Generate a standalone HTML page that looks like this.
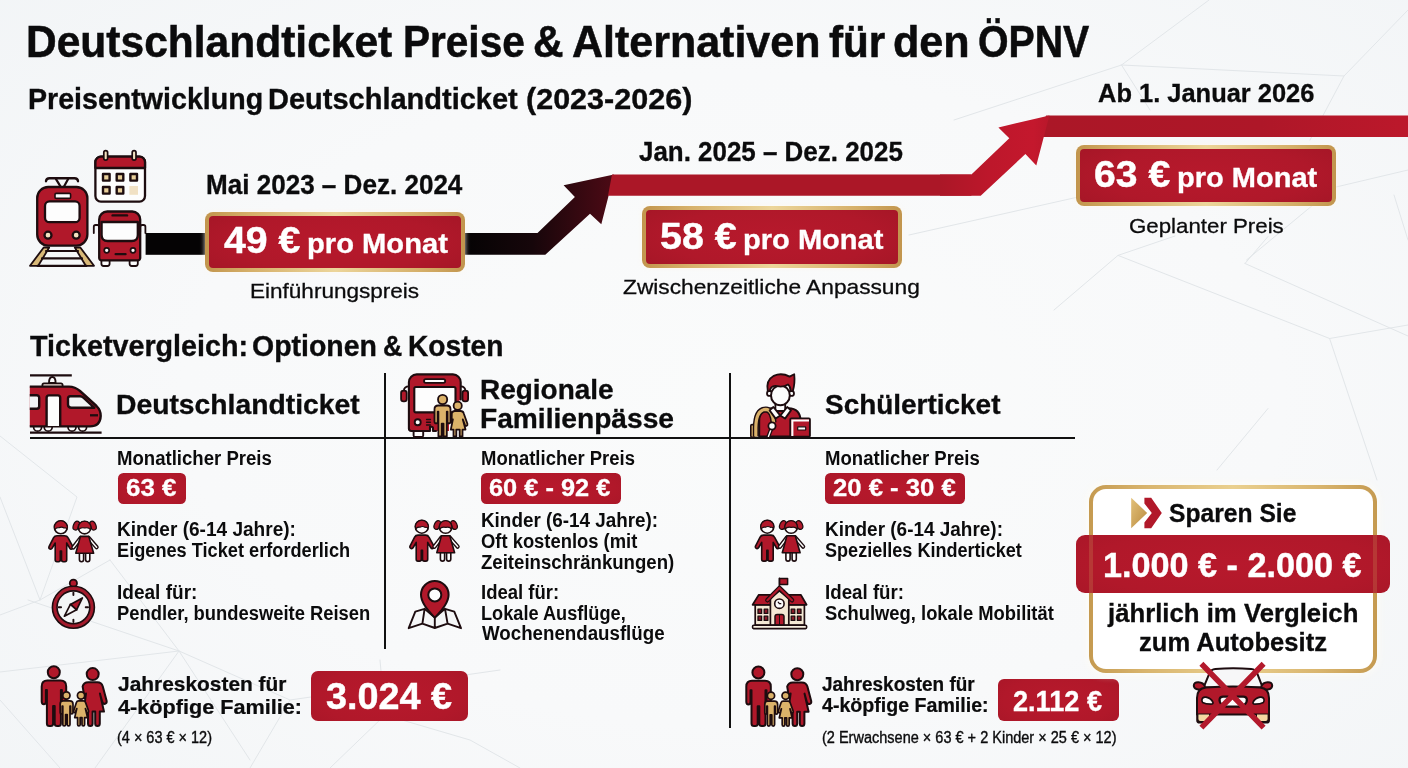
<!DOCTYPE html>
<html lang="de">
<head>
<meta charset="utf-8">
<title>Deutschlandticket Preise &amp; Alternativen für den ÖPNV</title>
<style>
html,body{margin:0;padding:0;background:#f5f7f8;}
#page{position:relative;width:1408px;height:768px;overflow:hidden;background:radial-gradient(ellipse 78% 85% at 52% 52%, #fafbfb 0%, #f8f9fa 50%, #f1f4f6 100%);font-family:"Liberation Sans",sans-serif;}
#page svg.layer{position:absolute;left:0;top:0;width:1408px;height:768px;display:block;}
.t{position:absolute;white-space:nowrap;line-height:1;transform-origin:0 0;font-family:"Liberation Sans",sans-serif;letter-spacing:0;}
.t.md{font-weight:700;}
.t.bd{-webkit-text-stroke:0.012em currentColor;}
.t.rg{-webkit-text-stroke:0.014em currentColor;}
.t.sm{-webkit-text-stroke:0.024em currentColor;}
.line{margin:0;padding:0;}
.badge{position:absolute;box-sizing:border-box;border:4px solid transparent;border-radius:8px;box-shadow:0 0 5px rgba(255,250,238,.85);background:radial-gradient(ellipse 70% 90% at 50% 50%,#b7192c 0%,#b0182a 60%,#a31626 100%) padding-box,linear-gradient(90deg,#c2954d 0%,#d6b06a 18%,#ecd59a 50%,#d6b06a 82%,#c2954d 100%) border-box;}
.pill{position:absolute;background:radial-gradient(ellipse 75% 95% at 50% 50%,#b7192c 0%,#b1182a 60%,#a61627 100%);border-radius:5.5px;}
.rule{position:absolute;background:#111;}

</style>
</head>
<body>
<div id="page">
<svg class="layer" viewBox="0 0 1408 768" aria-hidden="true">
<defs>
<linearGradient id="gBlack" x1="465" y1="0" x2="614" y2="0" gradientUnits="userSpaceOnUse">
<stop offset="0" stop-color="#050304"/><stop offset="0.45" stop-color="#16060a"/><stop offset="1" stop-color="#4d0a15"/>
</linearGradient>
<linearGradient id="gRed" x1="0" y1="0" x2="0" y2="1">
<stop offset="0" stop-color="#b3192b"/><stop offset="1" stop-color="#a81626"/>
</linearGradient>
<linearGradient id="gArrow2" x1="940" y1="0" x2="1050" y2="0" gradientUnits="userSpaceOnUse"><stop offset="0" stop-color="#ab1727"/><stop offset="0.45" stop-color="#bd172b"/><stop offset="0.85" stop-color="#c4182d"/><stop offset="1" stop-color="#b8172a"/></linearGradient>
<linearGradient id="gTop" x1="1040" y1="0" x2="1408" y2="0" gradientUnits="userSpaceOnUse"><stop offset="0" stop-color="#ab1727"/><stop offset="0.6" stop-color="#ae1728"/><stop offset="1" stop-color="#bc182b"/></linearGradient>
</defs>
<!-- faint low-poly background mesh -->
<g fill="none" stroke="#e2e6e9" stroke-width="1" stroke-linecap="round">
<path d="M954 120 L1121.5 65 L1209 0 M1121.5 65 L1344 76 L1408 10 M1121.5 65 L1150 110 M1344 76 L1310 140"/>
<path d="M909 235 L1076 197.5 M1334 187.5 L1408 170 M1246.5 260 L1319 200 M1394 195 L1408 240"/>
<path d="M1054 310 L1118 255.4 L1329.6 338.5 L1377 480 M1118 255.4 L1175 236 M1245 263.5 L1408 336 M1245 263.5 L1268 236.5 M1217 470 L1268 408.5 M1329.6 338.5 L1408 325"/>
<path d="M0 436 L77 497 L40 600 L0 615 M0 497 L40 600 M40 600 L110 560"/>
<path d="M0 672 L179 651 L28 600 M179 651 L110 560 M179 651 L250 760 M179 651 L95 768 M179 651 L290 700 L250 768 M290 700 L500 670 M0 700 L60 768"/>
<path d="M330 768 L385 715 L470 740 L520 768 M385 715 L380 660"/>
</g>
<!-- timeline track -->
<rect x="145.6" y="233" width="64" height="21.8" fill="#050304"/>
<polygon points="460,233 537.5,233 574.9,196.9 563.6,185.2 614,174.6 601.3,224.2 590,213.8 545.3,254.8 460,254.8" fill="url(#gBlack)"/>
<polygon points="1046,115.4 1408,115.4 1408,136.9 1040,136.9" fill="url(#gTop)"/>
<polygon points="612,174.5 971.4,174.5 971.4,195.8 608,195.8" fill="#ab1727"/>
<polygon points="940,174.5 971.4,174.5 1009.3,138.3 998.4,127.4 1049.4,115.4 1036.3,165.6 1025.4,154.1 980.7,195.8 940,195.8" fill="url(#gArrow2)"/>
</svg>

<div class="badge" style="left:205.4px;top:211.6px;width:259.6px;height:60.6px"></div>
<div class="badge" style="left:641.9px;top:205.9px;width:259.8px;height:62px"></div>
<div class="badge" style="left:1076.2px;top:144.8px;width:259.8px;height:61.5px"></div>
<div class="rule" style="left:29.5px;top:436.6px;width:1045px;height:2.4px"></div>
<div class="rule" style="left:383.8px;top:373px;width:2.2px;height:276px"></div>
<div class="rule" style="left:729.3px;top:373px;width:2.2px;height:354.5px"></div>
<div class="pill" style="left:117.8px;top:472.6px;width:68px;height:31px"></div>
<div class="pill" style="left:480.7px;top:472.6px;width:139.9px;height:31px"></div>
<div class="pill" style="left:825px;top:472.6px;width:140px;height:31px"></div>
<div class="pill" style="left:310.8px;top:670.7px;width:156.8px;height:50.6px;border-radius:7px"></div>
<div class="pill" style="left:997.8px;top:679px;width:120.8px;height:42px;border-radius:6px"></div>
<div id="savebox" style="position:absolute;box-sizing:border-box;left:1088.6px;top:484.5px;width:288.7px;height:188.6px;border:4px solid transparent;border-radius:17px;box-shadow:0 0 9px 1px rgba(255,253,244,.95);background:linear-gradient(#fff,#fff) padding-box,linear-gradient(90deg,#c59a50 0%,#d9b56e 20%,#ead08f 50%,#d9b56e 80%,#c59a50 100%) border-box"></div>
<div class="pill" style="left:1075.5px;top:535.3px;width:314px;height:58px;border-radius:9px"></div>
<div style="position:absolute;left:1088.6px;top:535.3px;width:4px;height:58px;background:rgba(205,160,90,.24)"></div>
<div style="position:absolute;left:1373.3px;top:535.3px;width:4px;height:58px;background:rgba(205,160,90,.24)"></div>

<svg class="layer" viewBox="0 0 1408 768" aria-hidden="true">
<g id="ico-transit" stroke="#1d0c0f" stroke-width="2.3" stroke-linejoin="round" stroke-linecap="round">
  <!-- tram: pantograph -->
  <path d="M46 181.2 Q46.3 178.3 49.5 178.3 H74.5 Q77.7 178.3 78 181.2" fill="none" stroke-width="2.4"/>
  <path d="M56 179.2 L60.6 186.6 M68 179.2 L64 186.6" fill="none" stroke-width="2.2"/>
  <!-- rails -->
  <polygon points="43.7,247.5 49.2,247.5 38.2,265.8 30,265.8" fill="#d8b878" stroke-width="1.8"/>
  <polygon points="74.8,247.5 80.3,247.5 94,265.8 85.8,265.8" fill="#d8b878" stroke-width="1.8"/>
  <path d="M46 251 H78 M42 258.4 H82 M37.5 265.8 H86.5" fill="none" stroke-width="2.2"/>
  <!-- tram body -->
  <rect x="37.2" y="187" width="50.2" height="58.6" rx="11" ry="11" fill="#b1182a"/>
  <rect x="45" y="201.4" width="34.6" height="20.8" rx="4.5" fill="#fdfdfd"/>
  <rect x="55" y="193.4" width="15.6" height="5" rx="1.2" fill="#fdfdfd" stroke-width="1.6"/>
  <circle cx="48" cy="235.2" r="3.5" fill="#f3e2c0"/>
  <circle cx="76.2" cy="235.2" r="3.5" fill="#f3e2c0"/>
  <!-- calendar -->
  <rect x="95.4" y="156.6" width="49.6" height="45" rx="5.5" fill="#fdfdfd"/>
  <path d="M95.4 168 V162.1 a5.5 5.5 0 0 1 5.5 -5.5 H139.5 a5.5 5.5 0 0 1 5.5 5.5 V168 Z" fill="#b1182a"/>
  <rect x="103.8" y="150.6" width="3.8" height="9.6" rx="1.9" fill="#f3e2c0" stroke-width="1.7"/>
  <rect x="132.2" y="150.6" width="3.8" height="9.6" rx="1.9" fill="#f3e2c0" stroke-width="1.7"/>
  <g fill="#e9cf9a" stroke-width="2.4">
    <rect x="103" y="174" width="6.6" height="6.6"/>
    <rect x="116.7" y="174" width="6.6" height="6.6"/>
    <rect x="130.4" y="174" width="6.6" height="6.6"/>
    <rect x="103" y="187" width="6.6" height="6.6"/>
    <rect x="116.7" y="187" width="6.6" height="6.6"/>
  </g>
  <rect x="129.4" y="186" width="8.6" height="8.8" fill="#f1e1c4" stroke="none"/>
  <!-- bus -->
  <path d="M99.2 232 V227 a2 2 0 0 0 -2 -2 H95.6 a1.8 1.8 0 0 0 -1.8 1.8 V233" fill="none" stroke-width="1.8"/>
  <path d="M140.2 232 V227 a2 2 0 0 1 2 -2 H143.6 a1.8 1.8 0 0 1 1.8 1.8 V233" fill="none" stroke-width="1.8"/>
  <rect x="101.4" y="258" width="8.2" height="8" rx="2.2" fill="#fdfdfd" stroke-width="1.8"/>
  <rect x="129.6" y="258" width="8.2" height="8" rx="2.2" fill="#fdfdfd" stroke-width="1.8"/>
  <path d="M99.2 258 V219.5 a8 8 0 0 1 8 -8 H132.2 a8 8 0 0 1 8 8 V258 a2.4 2.4 0 0 1 -2.4 2.4 H101.6 a2.4 2.4 0 0 1 -2.4 -2.4 Z" fill="#b1182a"/>
  <path d="M101.6 222 H137.8 V235 Q137.8 241 131.8 241 H107.6 Q101.6 241 101.6 235 Z" fill="#fdfdfd"/>
  <path d="M112.6 215.4 H127" fill="none" stroke-width="2.4"/>
  <circle cx="106.7" cy="250.3" r="2.5" fill="#fdfdfd" stroke-width="1.7"/>
  <circle cx="133" cy="250.3" r="2.5" fill="#fdfdfd" stroke-width="1.7"/>
  <path d="M115.6 254.2 H125.6" fill="none" stroke-width="2.2"/>
</g>

<g id="ico-train" stroke="#1d0c0f" stroke-width="2.4" stroke-linejoin="round" stroke-linecap="butt">
  <path d="M30 375.4 H71.8" fill="none" stroke-width="2.3"/>
  <path d="M49 383 Q49 377 52.3 377 Q55.6 377 55.6 383 Z" fill="#fdfdfd" stroke-width="1.9"/>
  <path d="M42.4 386 V385 a1.6 1.6 0 0 1 1.6 -1.6 H61 a1.6 1.6 0 0 1 1.6 1.6 V386" fill="#f1dfd8" stroke-width="1.8"/>
  <!-- wheels -->
  <g fill="#fdfdfd" stroke-width="1.7">
    <path d="M33.6 427 a4 4.2 0 0 0 8 0"/><path d="M44.2 427 a4 4.2 0 0 0 8 0"/>
    <path d="M68 427 a4 4.2 0 0 0 8 0"/><path d="M78.6 427 a4 4.2 0 0 0 8 0"/>
  </g>
  <!-- body -->
  <path d="M29.8 386.6 H69 Q75 386.6 80 391 L96.5 406 Q101 410.5 100.7 416 Q100.2 426.4 90 426.4 H29.8 Z" fill="#b1182a" stroke="none"/>
  <path d="M29.8 386.6 H69 Q75 386.6 80 391 L96.5 406 Q101 410.5 100.7 416 Q100.2 426.4 90 426.4 H29.8" fill="none"/>
  <!-- side window cut -->
  <path d="M29.8 395.2 H36.6 a2.6 2.6 0 0 1 2.6 2.6 V406.2 a2.6 2.6 0 0 1 -2.6 2.6 H29.8" fill="#f2f4f5"/>
  <!-- door -->
  <path d="M46.6 426 V397.8 a2.4 2.4 0 0 1 2.4 -2.4 H57.8 a2.4 2.4 0 0 1 2.4 2.4 V426" fill="#fdfdfd"/>
  <!-- front window -->
  <path d="M70.4 396.2 H80 Q82 396.2 83.4 397.6 L94.4 407.8 H71.4 Q68 407.8 68 404.6 V398.6 Q68 396.2 70.4 396.2 Z" fill="#f2f4f5"/>
  <path d="M90 415.3 H98" fill="none" stroke-width="2.3"/>
  <path d="M30 432.6 H101.6" fill="none" stroke-width="2.3"/>
</g>

<g id="ico-busfam" stroke="#1d0c0f" stroke-width="2.1" stroke-linejoin="round" stroke-linecap="round">
  <path d="M409 386.4 Q403.9 386.4 403.9 391" fill="none" stroke-width="1.8"/>
  <path d="M460.6 386.4 Q465.3 386.4 465.3 391" fill="none" stroke-width="1.8"/>
  <rect x="401.1" y="390.6" width="5.6" height="10.8" rx="2.4" fill="#b1182a" stroke-width="1.8"/>
  <rect x="462.5" y="390.6" width="5.6" height="10.8" rx="2.4" fill="#b1182a" stroke-width="1.8"/>
  <rect x="413.6" y="427" width="9.6" height="10" rx="1.5" fill="#fdfdfd" stroke-width="1.9"/>
  <path d="M408.9 428.6 V382.2 a7.8 7.8 0 0 1 7.8 -7.8 H452.9 a7.8 7.8 0 0 1 7.8 7.8 V399.4 L449 408 V431 H433 V428.4 Q433 426.8 431.4 426.8 H430 V431 H411.3 a2.4 2.4 0 0 1 -2.4 -2.4 Z" fill="#b1182a" stroke="none"/>
  <path d="M460.7 399.4 V382.2 a7.8 7.8 0 0 0 -7.8 -7.8 H416.7 a7.8 7.8 0 0 0 -7.8 7.8 V428.6 a2.4 2.4 0 0 0 2.4 2.4 H430 V426.8 H431.4 Q433 426.8 433 428.4 V431 H436" fill="none"/>
  <rect x="414.3" y="387" width="41.2" height="25.4" rx="1.6" fill="#fdfdfd"/>
  <rect x="424" y="379.1" width="21.2" height="3.7" rx="1.85" fill="#fdfdfd" stroke-width="1.8"/>
  <circle cx="417.7" cy="422.3" r="3" fill="#fdfdfd" stroke-width="1.9"/>
  <path d="M426.6 419.6 H430.4 M426.6 422.3 H430.4 M426.6 425 H430.4" fill="none" stroke-width="1.5"/>
  <!-- adult -->
  <circle cx="442.6" cy="399.5" r="4.6" fill="#dbb26a" stroke-width="1.8"/>
  <path d="M438.2 405.5 H447 Q450.5 405.5 450.5 409.2 V421.4 Q450.5 423.3 449 423.3 Q447.5 423.3 447.5 421.4 V411.6 H446.8 V436.4 H443.5 V423.6 H441.7 V436.4 H438.4 V411.6 H437.7 V421.4 Q437.7 423.3 436.1 423.3 Q434.5 423.3 434.5 421.4 V409.2 Q434.5 405.5 438.2 405.5 Z" fill="#dbb26a" stroke-width="1.8"/>
  <!-- woman -->
  <circle cx="457.7" cy="405.7" r="4.1" fill="#dbb26a" stroke-width="1.8"/>
  <path d="M454.8 411 H460.6 Q463 411 463.7 413.2 L467.4 423.8 Q467.8 425.4 466.6 425.8 Q465.4 426.1 464.9 424.9 L462.8 419.4 L465.5 429.6 H462.5 V436.4 H459.7 V429.6 H456.3 V436.4 H453.5 V429.6 H450.8 L452.9 419.4 L451.6 422.6 L451.8 413.2 Q452.4 411 454.8 411 Z" fill="#dbb26a" stroke-width="1.8"/>
</g>
<g id="ico-student" stroke="#1d0c0f" stroke-width="2" stroke-linejoin="round" stroke-linecap="round">
  <rect x="750.8" y="424.6" width="3.8" height="12.6" rx="1.2" fill="#dbb26a" stroke-width="1.6"/>
  <path d="M759.2 436.6 V421 Q759.2 408.4 772 408.2 H788.4 Q800.4 408.4 800.6 421 V436.6 Z" fill="#b1182a"/>
  <path d="M755.8 436.6 V428 Q756 409.6 765.8 409.4 Q772.4 409.8 773.6 422.6" fill="none" stroke-width="6" stroke-linecap="butt"/>
  <path d="M755.8 436.6 V428 Q756 409.6 765.8 409.4 Q772.4 409.8 773.6 422.6" fill="none" stroke="#dbb26a" stroke-width="3.2" stroke-linecap="butt"/>
  <rect x="775.4" y="402" width="9.8" height="9" fill="#fdfdfd" stroke-width="1.8"/>
  <path d="M773.4 407 L780.3 415.6 L775.6 418.6 L769.6 410.4 Z" fill="#fdfdfd" stroke-width="1.8"/>
  <path d="M787.2 407 L780.3 415.6 L785 418.6 L791 410.4 Z" fill="#fdfdfd" stroke-width="1.8"/>
  <circle cx="769.5" cy="393.4" r="2.5" fill="#fdfdfd" stroke-width="1.8"/>
  <circle cx="791.5" cy="393.4" r="2.5" fill="#fdfdfd" stroke-width="1.8"/>
  <ellipse cx="780.4" cy="395.4" rx="9.4" ry="9.9" fill="#fdfdfd"/>
  <path d="M767.8 391.2 Q765.6 380.4 773.8 375.8 Q781.6 372.4 789.6 376.6 L794.2 374.2 Q795.2 383.4 792.8 391.2 L790.6 391.2 Q790.8 386.6 788 384.4 Q783 387.4 777.4 386.2 Q773.4 385.4 771.4 387.4 Q769.8 389 770 391.2 Z" fill="#b1182a" stroke-width="1.8"/>
  <path d="M771.6 428 L768.4 436.4" fill="none" stroke-width="4"/><path d="M771.6 428 L768.4 436.4" fill="none" stroke="#fdfdfd" stroke-width="1.4"/>
  <circle cx="772" cy="426" r="3.6" fill="#fdfdfd" stroke-width="1.8"/>
  <rect x="790.3" y="418.4" width="19.6" height="18.4" rx="1" fill="#b1182a" stroke-width="1.9"/>
  <path d="M791.3 419.4 H809 V421.6 H793.4 V436 H791.3 Z" fill="#fdfdfd" stroke="none"/>
  <rect x="797.7" y="426.8" width="8" height="3.2" rx="0.6" fill="#fdfdfd" stroke-width="1.2"/>
</g>
<g transform="translate(0 0)" stroke="#1d0c0f" stroke-width="1.6" stroke-linejoin="round" stroke-linecap="round">
  <!-- boy -->
  <path d="M57 535.7 H64.6 Q67 535.7 68 537.7 L72.9 546.7 Q73.5 548.5 71.9 549.1 Q70.5 549.5 69.7 548.1 L66.7 543 V559.8 Q66.7 561.7 64.9 561.7 H63.2 Q61.5 561.7 61.5 559.8 V551 H60.3 V559.8 Q60.3 561.7 58.6 561.7 H56.9 Q55.2 561.7 55.2 559.8 V543 L52.2 548.1 Q51.4 549.5 50 549.1 Q48.4 548.5 49 546.7 L53.6 537.7 Q54.6 535.7 57 535.7 Z" fill="#b1182a"/>
  <circle cx="60.8" cy="527.3" r="6.5" fill="#fdfdfd"/>
  <path d="M54.72 529.6 A6.5 6.5 0 1 1 66.88 529.6 Q66.6 527.4 64 528 Q61.6 526.4 59 527.8 Q56.2 527.2 54.72 529.6 Z" fill="#b1182a" stroke-width="1.1"/>
  <!-- girl -->
  <path d="M80.6 538 L73.4 547.4" fill="none" stroke-width="4.3"/><path d="M80.6 538 L73.4 547.4" fill="none" stroke="#fdfdfd" stroke-width="1.5"/>
  <path d="M88.6 538 L96.6 547.2" fill="none" stroke-width="4.3"/><path d="M88.6 538 L96.6 547.2" fill="none" stroke="#fdfdfd" stroke-width="1.5"/>
  <path d="M79.4 553 H83.6 V559.6 a2.1 2.1 0 0 1 -4.2 0 Z" fill="#fdfdfd" stroke-width="1.6"/>
  <path d="M85.6 553 H89.8 V559.6 a2.1 2.1 0 0 1 -4.2 0 Z" fill="#fdfdfd" stroke-width="1.6"/>
  <path d="M80.4 536.4 H88.8 L93.6 553.3 H75.8 Z" fill="#b1182a"/>
  <ellipse cx="76.3" cy="525.6" rx="2.9" ry="4.6" transform="rotate(24 76.3 525.6)" fill="#b1182a" stroke-width="1.2"/>
  <ellipse cx="93" cy="525.6" rx="2.9" ry="4.6" transform="rotate(-24 93 525.6)" fill="#b1182a" stroke-width="1.2"/>
  <circle cx="84.6" cy="527.6" r="6.3" fill="#fdfdfd"/>
  <path d="M78.7 529.8 A6.3 6.3 0 1 1 90.5 529.8 Q88.8 527 84.8 528 Q80.4 527 78.7 529.8 Z" fill="#b1182a" stroke-width="1.1"/>
</g>
<g transform="translate(361 -0.6)" stroke="#1d0c0f" stroke-width="1.6" stroke-linejoin="round" stroke-linecap="round">
  <!-- boy -->
  <path d="M57 535.7 H64.6 Q67 535.7 68 537.7 L72.9 546.7 Q73.5 548.5 71.9 549.1 Q70.5 549.5 69.7 548.1 L66.7 543 V559.8 Q66.7 561.7 64.9 561.7 H63.2 Q61.5 561.7 61.5 559.8 V551 H60.3 V559.8 Q60.3 561.7 58.6 561.7 H56.9 Q55.2 561.7 55.2 559.8 V543 L52.2 548.1 Q51.4 549.5 50 549.1 Q48.4 548.5 49 546.7 L53.6 537.7 Q54.6 535.7 57 535.7 Z" fill="#b1182a"/>
  <circle cx="60.8" cy="527.3" r="6.5" fill="#fdfdfd"/>
  <path d="M54.72 529.6 A6.5 6.5 0 1 1 66.88 529.6 Q66.6 527.4 64 528 Q61.6 526.4 59 527.8 Q56.2 527.2 54.72 529.6 Z" fill="#b1182a" stroke-width="1.1"/>
  <!-- girl -->
  <path d="M80.6 538 L73.4 547.4" fill="none" stroke-width="4.3"/><path d="M80.6 538 L73.4 547.4" fill="none" stroke="#fdfdfd" stroke-width="1.5"/>
  <path d="M88.6 538 L96.6 547.2" fill="none" stroke-width="4.3"/><path d="M88.6 538 L96.6 547.2" fill="none" stroke="#fdfdfd" stroke-width="1.5"/>
  <path d="M79.4 553 H83.6 V559.6 a2.1 2.1 0 0 1 -4.2 0 Z" fill="#fdfdfd" stroke-width="1.6"/>
  <path d="M85.6 553 H89.8 V559.6 a2.1 2.1 0 0 1 -4.2 0 Z" fill="#fdfdfd" stroke-width="1.6"/>
  <path d="M80.4 536.4 H88.8 L93.6 553.3 H75.8 Z" fill="#b1182a"/>
  <ellipse cx="76.3" cy="525.6" rx="2.9" ry="4.6" transform="rotate(24 76.3 525.6)" fill="#b1182a" stroke-width="1.2"/>
  <ellipse cx="93" cy="525.6" rx="2.9" ry="4.6" transform="rotate(-24 93 525.6)" fill="#b1182a" stroke-width="1.2"/>
  <circle cx="84.6" cy="527.6" r="6.3" fill="#fdfdfd"/>
  <path d="M78.7 529.8 A6.3 6.3 0 1 1 90.5 529.8 Q88.8 527 84.8 528 Q80.4 527 78.7 529.8 Z" fill="#b1182a" stroke-width="1.1"/>
</g>
<g transform="translate(706.5 -0.6)" stroke="#1d0c0f" stroke-width="1.6" stroke-linejoin="round" stroke-linecap="round">
  <!-- boy -->
  <path d="M57 535.7 H64.6 Q67 535.7 68 537.7 L72.9 546.7 Q73.5 548.5 71.9 549.1 Q70.5 549.5 69.7 548.1 L66.7 543 V559.8 Q66.7 561.7 64.9 561.7 H63.2 Q61.5 561.7 61.5 559.8 V551 H60.3 V559.8 Q60.3 561.7 58.6 561.7 H56.9 Q55.2 561.7 55.2 559.8 V543 L52.2 548.1 Q51.4 549.5 50 549.1 Q48.4 548.5 49 546.7 L53.6 537.7 Q54.6 535.7 57 535.7 Z" fill="#b1182a"/>
  <circle cx="60.8" cy="527.3" r="6.5" fill="#fdfdfd"/>
  <path d="M54.72 529.6 A6.5 6.5 0 1 1 66.88 529.6 Q66.6 527.4 64 528 Q61.6 526.4 59 527.8 Q56.2 527.2 54.72 529.6 Z" fill="#b1182a" stroke-width="1.1"/>
  <!-- girl -->
  <path d="M80.6 538 L73.4 547.4" fill="none" stroke-width="4.3"/><path d="M80.6 538 L73.4 547.4" fill="none" stroke="#fdfdfd" stroke-width="1.5"/>
  <path d="M88.6 538 L96.6 547.2" fill="none" stroke-width="4.3"/><path d="M88.6 538 L96.6 547.2" fill="none" stroke="#fdfdfd" stroke-width="1.5"/>
  <path d="M79.4 553 H83.6 V559.6 a2.1 2.1 0 0 1 -4.2 0 Z" fill="#fdfdfd" stroke-width="1.6"/>
  <path d="M85.6 553 H89.8 V559.6 a2.1 2.1 0 0 1 -4.2 0 Z" fill="#fdfdfd" stroke-width="1.6"/>
  <path d="M80.4 536.4 H88.8 L93.6 553.3 H75.8 Z" fill="#b1182a"/>
  <ellipse cx="76.3" cy="525.6" rx="2.9" ry="4.6" transform="rotate(24 76.3 525.6)" fill="#b1182a" stroke-width="1.2"/>
  <ellipse cx="93" cy="525.6" rx="2.9" ry="4.6" transform="rotate(-24 93 525.6)" fill="#b1182a" stroke-width="1.2"/>
  <circle cx="84.6" cy="527.6" r="6.3" fill="#fdfdfd"/>
  <path d="M78.7 529.8 A6.3 6.3 0 1 1 90.5 529.8 Q88.8 527 84.8 528 Q80.4 527 78.7 529.8 Z" fill="#b1182a" stroke-width="1.1"/>
</g>
<g id="ico-compass" stroke="#1d0c0f" stroke-linejoin="round" stroke-linecap="round">
  <circle cx="73.4" cy="583.2" r="3.6" fill="#b1182a" stroke-width="1.8"/>
  <circle cx="73.4" cy="607.3" r="21" fill="#a31a2b" stroke-width="1.6"/>
  <circle cx="73.4" cy="607.3" r="16.4" fill="#f4f5f6" stroke-width="1.6"/>
  <path d="M73.4 592.6 V595 M73.4 619.6 V622 M58.7 607.3 H61.1 M85.7 607.3 H88.1" fill="none" stroke-width="1.9"/>
  <path d="M82.4 597.9 L76.6 609.8 L70.4 604.4 Z" fill="#b1182a" stroke-width="1.7"/>
  <path d="M64.4 616.2 L76.6 609.8 L70.4 604.4 Z" fill="#f7f7f8" stroke-width="1.7"/>
</g>
<g id="ico-pin" stroke="#1d0c0f" stroke-width="2" stroke-linejoin="round" stroke-linecap="round">
  <path d="M408.7 628.2 L415.3 611.6 L424.6 608.8 L422.4 623.6 Z M422.4 623.6 L434.8 628 L434.8 617.6 L424.6 608.8 M434.8 628 L447.6 623.6 L445 608.8 L434.8 617.6 M447.6 623.6 L461 628.2 L454.3 611.6 L445 608.8" fill="#f5f6f7" stroke-width="1.9"/>
  <path d="M434.8 617.6 Q421 604 421 594.8 A13.8 13.8 0 0 1 448.6 594.8 Q448.6 604 434.8 617.6 Z" fill="#b1182a"/>
  <circle cx="434.8" cy="594.9" r="6.5" fill="#fdfdfd"/>
</g>
<g id="ico-school" stroke="#1d0c0f" stroke-width="1.7" stroke-linejoin="round" stroke-linecap="round">
  <path d="M779.4 587.4 V578.4" fill="none" stroke-width="1.6"/>
  <rect x="779.6" y="578.4" width="8" height="6" fill="#b1182a" stroke-width="1.5"/>
  <rect x="755.2" y="604.6" width="49.2" height="20.6" fill="#f4e8d4"/>
  <path d="M752.6 604.8 L758.8 594.8 H800.8 L806.6 604.8 Z" fill="#b1182a"/>
  <path d="M770.4 625.2 V598.4 L779.4 590.8 L788.8 598.4 V625.2 Z" fill="#f4e8d4"/>
  <path d="M767.4 600.2 L779.4 588 L792 600.2" fill="none" stroke-width="4.6"/>
  <path d="M767.4 600.2 L779.4 588 L792 600.2" fill="none" stroke="#b1182a" stroke-width="2.2"/>
  <circle cx="779.4" cy="603.7" r="4.7" fill="#fdfdfd" stroke-width="1.6"/>
  <path d="M779.4 603.7 L778.2 602.2 M779.4 603.7 H780.8" fill="none" stroke-width="1.2"/>
  <path d="M775 625 V616.6 Q775 614.4 777.2 614.4 H781.8 Q784 614.4 784 616.6 V625 Z" fill="#b1182a" stroke-width="1.5"/>
  <path d="M779.5 614.6 V625" fill="none" stroke-width="1"/>
  <g fill="#8e1a28" stroke-width="1.3">
    <rect x="758" y="609.2" width="3.6" height="4.2"/><rect x="764.2" y="609.2" width="3.6" height="4.2"/>
    <rect x="758" y="616.2" width="3.6" height="4.2"/><rect x="764.2" y="616.2" width="3.6" height="4.2"/>
    <rect x="791.2" y="609.2" width="3.6" height="4.2"/><rect x="797.4" y="609.2" width="3.6" height="4.2"/>
    <rect x="791.2" y="616.2" width="3.6" height="4.2"/><rect x="797.4" y="616.2" width="3.6" height="4.2"/>
  </g>
  <rect x="752.6" y="625.2" width="54" height="3.4" rx="1" fill="#f8f0e2" stroke-width="1.6"/>
</g>
<g transform="translate(0 0)" stroke="#1d0c0f" stroke-width="2" stroke-linejoin="round" stroke-linecap="round">
  <!-- man -->
  <circle cx="53.8" cy="672.3" r="6" fill="#b1182a"/>
  <path d="M47.4 680.6 H60.4 Q66.2 680.6 66.2 686.4 V701.6 Q66.2 704.2 64 704.2 Q61.9 704.2 61.9 701.6 V690 H60.9 V723.4 Q60.9 725.9 58.4 725.9 H57.2 Q54.7 725.9 54.7 723.4 V706 H53.1 V723.4 Q53.1 725.9 50.6 725.9 H49.4 Q46.9 725.9 46.9 723.4 V690 H45.9 V701.6 Q45.9 704.2 43.8 704.2 Q41.7 704.2 41.7 701.6 V686.4 Q41.7 680.6 47.4 680.6 Z" fill="#b1182a"/>
  <!-- woman -->
  <circle cx="92.7" cy="674.1" r="6" fill="#b1182a"/>
  <path d="M88.2 682.2 H97.2 Q101.6 682.2 102.8 686.4 L106.6 700.8 Q107.1 703.2 105.1 703.8 Q103.1 704.2 102.4 702.2 L99.9 693.4 L104 711.6 H99.8 V723.4 Q99.8 725.9 97.5 725.9 Q95.2 725.9 95.2 723.4 V711.6 H92.6 V723.4 Q92.6 725.9 90.3 725.9 Q88 725.9 88 723.4 V711.6 H83.6 L86 693.4 L84.6 698 L82.6 686.4 Q83.8 682.2 88.2 682.2 Z" fill="#b1182a"/>
  <!-- boy (gold) -->
  <circle cx="66.4" cy="695.5" r="3.6" fill="#dbb26a" stroke-width="1.7"/>
  <path d="M63 700.9 H69.8 Q73 700.9 73 704 V712.6 Q73 714 71.8 714 Q70.6 714 70.6 712.6 V706 H70 V724.4 Q70 725.9 68.6 725.9 Q67.2 725.9 67.2 724.4 V714.6 H65.6 V724.4 Q65.6 725.9 64.2 725.9 Q62.8 725.9 62.8 724.4 V706 H62.2 V712.6 Q62.2 714 61.2 714 Q60.2 714 60.2 712.6 V704 Q60.2 700.9 63 700.9 Z" fill="#dbb26a" stroke-width="1.7"/>
  <!-- girl (gold) -->
  <circle cx="81" cy="695.5" r="3.6" fill="#dbb26a" stroke-width="1.7"/>
  <path d="M78.6 700.9 H83.4 Q85 700.9 85.6 702.6 L88.6 711 Q88.9 712.2 88 712.5 Q87.1 712.7 86.7 711.8 L85.4 708.6 L87.5 717.6 H84.6 V724.5 Q84.6 725.9 83.3 725.9 Q82 725.9 82 724.5 V717.6 H80.2 V724.5 Q80.2 725.9 78.9 725.9 Q77.6 725.9 77.6 724.5 V717.6 H74.7 L76.8 708.6 L75.5 711.8 Q75.1 712.7 74.2 712.5 Q73.3 712.2 73.6 711 L76.4 702.6 Q77 700.9 78.6 700.9 Z" fill="#dbb26a" stroke-width="1.7"/>
</g>
<g transform="translate(704.6 0.2)" stroke="#1d0c0f" stroke-width="2" stroke-linejoin="round" stroke-linecap="round">
  <!-- man -->
  <circle cx="53.8" cy="672.3" r="6" fill="#b1182a"/>
  <path d="M47.4 680.6 H60.4 Q66.2 680.6 66.2 686.4 V701.6 Q66.2 704.2 64 704.2 Q61.9 704.2 61.9 701.6 V690 H60.9 V723.4 Q60.9 725.9 58.4 725.9 H57.2 Q54.7 725.9 54.7 723.4 V706 H53.1 V723.4 Q53.1 725.9 50.6 725.9 H49.4 Q46.9 725.9 46.9 723.4 V690 H45.9 V701.6 Q45.9 704.2 43.8 704.2 Q41.7 704.2 41.7 701.6 V686.4 Q41.7 680.6 47.4 680.6 Z" fill="#b1182a"/>
  <!-- woman -->
  <circle cx="92.7" cy="674.1" r="6" fill="#b1182a"/>
  <path d="M88.2 682.2 H97.2 Q101.6 682.2 102.8 686.4 L106.6 700.8 Q107.1 703.2 105.1 703.8 Q103.1 704.2 102.4 702.2 L99.9 693.4 L104 711.6 H99.8 V723.4 Q99.8 725.9 97.5 725.9 Q95.2 725.9 95.2 723.4 V711.6 H92.6 V723.4 Q92.6 725.9 90.3 725.9 Q88 725.9 88 723.4 V711.6 H83.6 L86 693.4 L84.6 698 L82.6 686.4 Q83.8 682.2 88.2 682.2 Z" fill="#b1182a"/>
  <!-- boy (gold) -->
  <circle cx="66.4" cy="695.5" r="3.6" fill="#dbb26a" stroke-width="1.7"/>
  <path d="M63 700.9 H69.8 Q73 700.9 73 704 V712.6 Q73 714 71.8 714 Q70.6 714 70.6 712.6 V706 H70 V724.4 Q70 725.9 68.6 725.9 Q67.2 725.9 67.2 724.4 V714.6 H65.6 V724.4 Q65.6 725.9 64.2 725.9 Q62.8 725.9 62.8 724.4 V706 H62.2 V712.6 Q62.2 714 61.2 714 Q60.2 714 60.2 712.6 V704 Q60.2 700.9 63 700.9 Z" fill="#dbb26a" stroke-width="1.7"/>
  <!-- girl (gold) -->
  <circle cx="81" cy="695.5" r="3.6" fill="#dbb26a" stroke-width="1.7"/>
  <path d="M78.6 700.9 H83.4 Q85 700.9 85.6 702.6 L88.6 711 Q88.9 712.2 88 712.5 Q87.1 712.7 86.7 711.8 L85.4 708.6 L87.5 717.6 H84.6 V724.5 Q84.6 725.9 83.3 725.9 Q82 725.9 82 724.5 V717.6 H80.2 V724.5 Q80.2 725.9 78.9 725.9 Q77.6 725.9 77.6 724.5 V717.6 H74.7 L76.8 708.6 L75.5 711.8 Q75.1 712.7 74.2 712.5 Q73.3 712.2 73.6 711 L76.4 702.6 Q77 700.9 78.6 700.9 Z" fill="#dbb26a" stroke-width="1.7"/>
</g>
<g id="ico-chevrons">
  <defs><linearGradient id="gGold" x1="0" y1="0" x2="1" y2="1"><stop offset="0" stop-color="#e3c17a"/><stop offset="1" stop-color="#b98a3e"/></linearGradient></defs>
  <polygon points="1131.2,497.8 1147.2,513 1131.2,528.2" fill="url(#gGold)"/>
  <polygon points="1144.4,497.8 1151.2,497.8 1161.8,513 1151.2,528.2 1144.4,528.2 1144.4,522.6 1151.8,513 1144.4,503.4" fill="#b1182a"/>
</g>
<g id="ico-car" stroke="#1d0c0f" stroke-width="2" stroke-linejoin="round" stroke-linecap="round">
  <path d="M1203.6 687.4 L1209.4 673.4 Q1211 669.4 1215.4 669 Q1233 667.4 1251.2 669 Q1255.6 669.4 1257.2 673.4 L1262.6 687.4 Z" fill="#f7f7f8"/>
  <rect x="1197.2" y="712" width="12" height="10.6" rx="2.4" fill="#1d0c0f"/>
  <rect x="1257" y="712" width="12" height="10.6" rx="2.4" fill="#1d0c0f"/>
  <path d="M1203.6 689.4 Q1194 690.4 1193.8 685.8 Q1193.8 682 1198.4 682.2 Q1203.4 682.4 1204.8 686.4" fill="#b1182a"/>
  <path d="M1262.6 689.4 Q1272 690.4 1272.2 685.8 Q1272.2 682 1267.6 682.2 Q1262.8 682.4 1261.4 686.4" fill="#b1182a"/>
  <path d="M1197 714.4 V698 Q1197 688.6 1206 687.6 Q1233 685.6 1260 687.6 Q1269 688.6 1269 698 V714.4 Z" fill="#b1182a"/>
  <path d="M1198.4 714.4 H1209 V721 H1200.4 Q1198.4 721 1198.4 719 Z" fill="#f5d7a2" stroke="none"/>
  <path d="M1267.6 714.4 H1257 V721 H1265.6 Q1267.6 721 1267.6 719 Z" fill="#f5d7a2" stroke="none"/>
  <path d="M1202 699.4 Q1202.6 696.6 1206 697.2 Q1211.6 698.4 1213 702.6 Q1213.2 704.4 1210.6 704.2 Q1205.6 704 1202.6 702.4 Q1201.6 701.4 1202 699.4 Z" fill="#fdfdfd" stroke-width="1.7"/>
  <path d="M1264 699.4 Q1263.4 696.6 1260 697.2 Q1254.4 698.4 1253 702.6 Q1252.8 704.4 1255.4 704.2 Q1260.4 704 1263.4 702.4 Q1264.4 701.4 1264 699.4 Z" fill="#fdfdfd" stroke-width="1.7"/>
  <path d="M1219.6 699 Q1220.2 696.6 1223 696.6 H1243.4 Q1246.2 696.6 1246.8 699 Q1247.4 702.2 1244.4 704.8 Q1242.6 706.6 1240 706.6 H1226.4 Q1223.8 706.6 1222 704.8 Q1219 702.2 1219.6 699 Z" fill="#fdfdfd" stroke-width="2.2"/>
  <path d="M1201.4 663.8 L1263.6 727.6 M1263.6 663.8 L1201.4 727.6" fill="none" stroke="#b3192c" stroke-width="5.6" stroke-linecap="butt"/>
</g>
</svg>

<div id="texts">
<div class="line" id="h1">
<span class="t bd" id="h1_0" style="left:26px;top:20px;font-size:44.5px;font-weight:700;color:#0b0b0c;transform:scaleX(0.9555);">Deutschlandticket</span>
<span class="t bd" id="h1_1" style="left:403px;top:20px;font-size:44.5px;font-weight:700;color:#0b0b0c;transform:scaleX(0.9110);">Preise</span>
<span class="t bd" id="h1_2" style="left:533px;top:20px;font-size:44.5px;font-weight:700;color:#0b0b0c;transform:scaleX(0.9496);">&amp;</span>
<span class="t bd" id="h1_3" style="left:572px;top:20px;font-size:44.5px;font-weight:700;color:#0b0b0c;transform:scaleX(0.9660);">Alternativen</span>
<span class="t bd" id="h1_4" style="left:829px;top:20px;font-size:44.5px;font-weight:700;color:#0b0b0c;transform:scaleX(0.9491);">für</span>
<span class="t bd" id="h1_5" style="left:893px;top:20px;font-size:44.5px;font-weight:700;color:#0b0b0c;transform:scaleX(0.9698);">den</span>
<span class="t bd" id="h1_6" style="left:978px;top:20px;font-size:44.5px;font-weight:700;color:#0b0b0c;transform:scaleX(0.8826);">ÖPNV</span>
</div>
<div class="line" id="h2a">
<span class="t bd" id="h2a_0" style="left:28px;top:85px;font-size:29px;font-weight:700;color:#0b0b0c;transform:scaleX(0.9857);">Preisentwicklung</span>
<span class="t bd" id="h2a_1" style="left:268px;top:85px;font-size:29px;font-weight:700;color:#0b0b0c;transform:scaleX(0.9999);">Deutschlandticket</span>
<span class="t bd" id="h2a_2" style="left:526px;top:85px;font-size:29px;font-weight:700;color:#0b0b0c;transform:scaleX(1.0525);">(2023-2026)</span>
</div>
<div class="line" id="h2b">
<span class="t bd" id="h2b_0" style="left:30px;top:332px;font-size:29px;font-weight:700;color:#0b0b0c;transform:scaleX(0.9901);">Ticketvergleich:</span>
<span class="t bd" id="h2b_1" style="left:252px;top:332px;font-size:29px;font-weight:700;color:#0b0b0c;transform:scaleX(0.9815);">Optionen</span>
<span class="t bd" id="h2b_2" style="left:383px;top:332px;font-size:29px;font-weight:700;color:#0b0b0c;transform:scaleX(0.9199);">&amp;</span>
<span class="t bd" id="h2b_3" style="left:408px;top:332px;font-size:29px;font-weight:700;color:#0b0b0c;transform:scaleX(0.9708);">Kosten</span>
</div>
<span class="t bd" id="d1" style="left:206px;top:171px;font-size:27.5px;font-weight:700;color:#0b0b0c;transform:scaleX(0.9474);">Mai 2023 – Dez. 2024</span>
<span class="t bd" id="d2" style="left:639px;top:139px;font-size:26.8px;font-weight:700;color:#0b0b0c;transform:scaleX(0.9677);">Jan. 2025 – Dez. 2025</span>
<span class="t bd" id="d3" style="left:1098px;top:80px;font-size:26.5px;font-weight:700;color:#0b0b0c;transform:scaleX(0.9603);">Ab 1. Januar 2026</span>
<span class="t bd" id="b1a" style="left:224px;top:223px;font-size:36.7px;font-weight:700;color:#ffffff;transform:scaleX(1.0692);">49 €</span>
<span class="t bd" id="b1b" style="left:307px;top:230px;font-size:27.8px;font-weight:700;color:#ffffff;transform:scaleX(1.0485);">pro Monat</span>
<span class="t bd" id="b2a" style="left:660px;top:219px;font-size:36.7px;font-weight:700;color:#ffffff;transform:scaleX(1.0724);">58 €</span>
<span class="t bd" id="b2b" style="left:743px;top:226px;font-size:27.8px;font-weight:700;color:#ffffff;transform:scaleX(1.0455);">pro Monat</span>
<span class="t bd" id="b3a" style="left:1094px;top:157px;font-size:36.7px;font-weight:700;color:#ffffff;transform:scaleX(1.0668);">63 €</span>
<span class="t bd" id="b3b" style="left:1177px;top:164px;font-size:27.8px;font-weight:700;color:#ffffff;transform:scaleX(1.0435);">pro Monat</span>
<span class="t rg" id="c1" style="left:250px;top:281px;font-size:20.8px;font-weight:400;color:#0b0b0c;transform:scaleX(1.0837);">Einführungspreis</span>
<span class="t rg" id="c2" style="left:623px;top:277px;font-size:20.8px;font-weight:400;color:#0b0b0c;transform:scaleX(1.0924);">Zwischenzeitliche Anpassung</span>
<span class="t rg" id="c3" style="left:1129px;top:216px;font-size:20.8px;font-weight:400;color:#0b0b0c;transform:scaleX(1.0710);">Geplanter Preis</span>
<span class="t bd" id="k1" style="left:116px;top:391px;font-size:27.3px;font-weight:700;color:#0b0b0c;transform:scaleX(1.0361);">Deutschlandticket</span>
<span class="t bd" id="k2a" style="left:480px;top:376px;font-size:27.3px;font-weight:700;color:#0b0b0c;transform:scaleX(1.0238);">Regionale</span>
<span class="t bd" id="k2b" style="left:480px;top:405px;font-size:27.3px;font-weight:700;color:#0b0b0c;transform:scaleX(1.0311);">Familienpässe</span>
<span class="t bd" id="k3" style="left:825px;top:391px;font-size:27.3px;font-weight:700;color:#0b0b0c;transform:scaleX(1.0234);">Schülerticket</span>
<span class="t md" id="m1" style="left:117px;top:449px;font-size:19.6px;font-weight:700;color:#0b0b0c;transform:scaleX(0.9479);">Monatlicher Preis</span>
<span class="t md" id="m2" style="left:481px;top:449px;font-size:19.6px;font-weight:700;color:#0b0b0c;transform:scaleX(0.9425);">Monatlicher Preis</span>
<span class="t md" id="m3" style="left:825px;top:449px;font-size:19.6px;font-weight:700;color:#0b0b0c;transform:scaleX(0.9477);">Monatlicher Preis</span>
<span class="t bd" id="p1" style="left:126px;top:476px;font-size:24px;font-weight:700;color:#ffffff;transform:scaleX(1.0804);">63 €</span>
<span class="t bd" id="p2" style="left:489px;top:476px;font-size:24px;font-weight:700;color:#ffffff;transform:scaleX(1.0565);">60 € - 92 €</span>
<span class="t bd" id="p3" style="left:833px;top:476px;font-size:24px;font-weight:700;color:#ffffff;transform:scaleX(1.0701);">20 € - 30 €</span>
<span class="t md" id="r1a" style="left:117px;top:520px;font-size:19.6px;font-weight:700;color:#0b0b0c;transform:scaleX(0.9725);">Kinder (6-14 Jahre):</span>
<span class="t md" id="r1b" style="left:117px;top:541px;font-size:19.6px;font-weight:700;color:#0b0b0c;transform:scaleX(0.9280);">Eigenes Ticket erforderlich</span>
<span class="t md" id="r1c" style="left:117px;top:583px;font-size:19.6px;font-weight:700;color:#0b0b0c;transform:scaleX(0.9717);">Ideal für:</span>
<span class="t md" id="r1d" style="left:117px;top:604px;font-size:19.6px;font-weight:700;color:#0b0b0c;transform:scaleX(0.9379);">Pendler, bundesweite Reisen</span>
<span class="t md" id="r2a" style="left:481px;top:511px;font-size:19.6px;font-weight:700;color:#0b0b0c;transform:scaleX(0.9626);">Kinder (6-14 Jahre):</span>
<span class="t md" id="r2b" style="left:481px;top:532px;font-size:19.6px;font-weight:700;color:#0b0b0c;transform:scaleX(0.9385);">Oft kostenlos (mit</span>
<span class="t md" id="r2c" style="left:481px;top:553px;font-size:19.6px;font-weight:700;color:#0b0b0c;transform:scaleX(0.9489);">Zeiteinschränkungen)</span>
<span class="t md" id="r2d" style="left:481px;top:583px;font-size:19.6px;font-weight:700;color:#0b0b0c;transform:scaleX(0.9448);">Ideal für:</span>
<span class="t md" id="r2e" style="left:481px;top:604px;font-size:19.6px;font-weight:700;color:#0b0b0c;transform:scaleX(0.9271);">Lokale Ausflüge,</span>
<span class="t md" id="r2f" style="left:482px;top:624px;font-size:19.6px;font-weight:700;color:#0b0b0c;transform:scaleX(0.9547);">Wochenendausflüge</span>
<span class="t md" id="r3a" style="left:825px;top:520px;font-size:19.6px;font-weight:700;color:#0b0b0c;transform:scaleX(0.9672);">Kinder (6-14 Jahre):</span>
<span class="t md" id="r3b" style="left:825px;top:541px;font-size:19.6px;font-weight:700;color:#0b0b0c;transform:scaleX(0.9220);">Spezielles Kinderticket</span>
<span class="t md" id="r3c" style="left:825px;top:583px;font-size:19.6px;font-weight:700;color:#0b0b0c;transform:scaleX(0.9559);">Ideal für:</span>
<span class="t md" id="r3d" style="left:825px;top:604px;font-size:19.6px;font-weight:700;color:#0b0b0c;transform:scaleX(0.9383);">Schulweg, lokale Mobilität</span>
<span class="t bd" id="j1a" style="left:118px;top:674px;font-size:20.6px;font-weight:700;color:#0b0b0c;transform:scaleX(1.0152);">Jahreskosten für</span>
<span class="t bd" id="j1b" style="left:118px;top:697px;font-size:20.6px;font-weight:700;color:#0b0b0c;transform:scaleX(1.0508);">4-köpfige Familie:</span>
<span class="t rg" id="j1c" style="left:117px;top:730px;font-size:15.6px;font-weight:400;color:#0b0b0c;transform:scaleX(0.9284);-webkit-text-stroke:0.36px currentColor;">(4 × 63 € × 12)</span>
<span class="t bd" id="j1v" style="left:326px;top:678px;font-size:37px;font-weight:700;color:#ffffff;transform:scaleX(1.0212);">3.024 €</span>
<span class="t bd" id="j3a" style="left:822px;top:675px;font-size:19.4px;font-weight:700;color:#0b0b0c;transform:scaleX(0.9772);">Jahreskosten für</span>
<span class="t bd" id="j3b" style="left:822px;top:696px;font-size:19.4px;font-weight:700;color:#0b0b0c;transform:scaleX(1.0105);">4-köpfige Familie:</span>
<span class="t rg" id="j3c" style="left:822px;top:730px;font-size:15.6px;font-weight:400;color:#0b0b0c;transform:scaleX(0.9307);-webkit-text-stroke:0.36px currentColor;">(2 Erwachsene × 63 € + 2 Kinder × 25 € × 12)</span>
<span class="t bd" id="j3v" style="left:1013px;top:686px;font-size:29.7px;font-weight:700;color:#ffffff;transform:scaleX(0.9138);">2.112 €</span>
<span class="t bd" id="s1" style="left:1169px;top:501px;font-size:25.4px;font-weight:700;color:#0b0b0c;transform:scaleX(0.9705);">Sparen Sie</span>
<span class="t bd" id="s2" style="left:1103px;top:548px;font-size:35.5px;font-weight:700;color:#ffffff;transform:scaleX(0.9634);">1.000 € - 2.000 €</span>
<span class="t bd" id="s3" style="left:1108px;top:601px;font-size:25.4px;font-weight:700;color:#0b0b0c;transform:scaleX(1.0138);">jährlich im Vergleich</span>
<span class="t bd" id="s4" style="left:1139px;top:630px;font-size:25.4px;font-weight:700;color:#0b0b0c;transform:scaleX(1.0068);">zum Autobesitz</span>
</div>
</div>
</body>
</html>
